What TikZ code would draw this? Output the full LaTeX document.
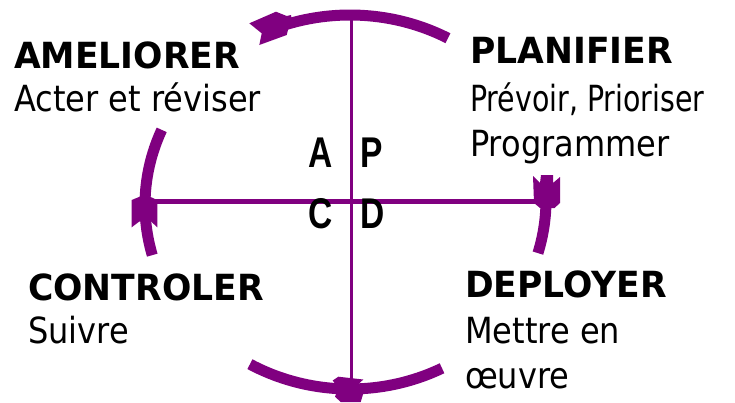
\documentclass[tikz,border=0pt]{standalone}
\usepackage{fontspec}
\newfontfamily\regf[FakeStretch=0.89]{DejaVu Sans}
\newfontfamily\regn[FakeStretch=0.79]{DejaVu Sans}
\newfontfamily\boldf[FakeStretch=0.96]{DejaVu Sans}
\newfontfamily\letf[FakeStretch=0.78]{Liberation Sans}
\definecolor{pdca}{HTML}{800080}
\begin{document}
\begin{tikzpicture}[x=1pt,y=-1pt,
  title/.style={anchor=base west, inner sep=0pt, font=\boldf\bfseries\fontsize{36}{43}\selectfont},
  body/.style={anchor=base west, inner sep=0pt, font=\regf\fontsize{36}{43}\selectfont},
  letter/.style={anchor=base, inner sep=0pt, font=\letf\bfseries\fontsize{43}{50}\selectfont},
  arcline/.style={draw=pdca, line width=11pt},
  axisline/.style={draw=pdca},
  head/.style={fill=pdca}]
\useasboundingbox (0,0) rectangle (735,402);

% axes
\coordinate (vtop) at (351.5,12);
\coordinate (vbot) at (351.5,385);
\coordinate (hl) at (150,201.5);
\coordinate (hr) at (536,201.5);
\draw[axisline, line width=3pt] (vtop) -- (vbot);
\draw[axisline, line width=4.5pt] (hl) -- (hr);

% arcs
\draw[arcline] plot[domain=61:109, samples=40] ({350+202*cos(\x)},{200-185*sin(\x)});
\draw[arcline] plot[domain=156.7:195.3, samples=40] ({350+205*cos(\x)},{205-190*sin(\x)});
\draw[arcline] plot[domain=-16.5:-2, samples=30] ({350+196*cos(\x)},{200-187*sin(\x)});
\draw[arcline] plot[domain=240.3:297.1, samples=40] ({350+202*cos(\x)},{200-189*sin(\x)});

% arrow heads
\fill[head] (249.3,23.3) -- (261.7,33.3) -- (259.3,45) -- (286.7,35) -- (289.3,25)
  -- (292,22) -- (291,15) -- (286.7,16) -- (276,11.7) -- cycle;
\fill[head] (145,194.5) -- (157.3,200) -- (157.3,227.3) -- (151,221.5) -- (139.3,221.5)
  -- (131.7,227.3) -- (131.7,200) -- cycle;
\fill[head] (533,176) -- (540,183) -- (541,175) -- (553,175) -- (553,183) -- (560,177)
  -- (560,203) -- (554.5,208) -- (540,208) -- (534,203) -- cycle;
\fill[head] (332.7,380.5) -- (338.3,376.7) -- (363.3,379.5) -- (357.5,385) -- (364,391)
  -- (360.7,402) -- (340.7,402) -- (335,396.7) -- (338.5,388) -- cycle;

% quadrant letters
\node[letter] (la) at (320.5,167) {A};
\node[letter] (lp) at (371.5,167) {P};
\node[letter] (lc) at (320.5,228) {C};
\node[letter] (ld) at (372.5,228) {D};

% texts
\node[title] (ameliorer) at (14,68.5) {AMELIORER};
\node[body]  (acter) at (14,111.5) {Acter et réviser};
\node[title] (planifier) at (470,63.5) {PLANIFIER};
\node[body, font=\regn\fontsize{36}{43}\selectfont]  (prevoir) at (470,111.5) {Prévoir, Prioriser};
\node[body]  (programmer) at (470,156.5) {Programmer};
\node[title] (controler) at (28,300.5) {CONTROLER};
\node[body]  (suivre) at (28,343) {Suivre};
\node[title] (deployer) at (465,297.5) {DEPLOYER};
\node[body]  (mettre) at (465,343) {Mettre en};
\node[body]  (oeuvre) at (465,388) {œuvre};
\end{tikzpicture}
\end{document}
